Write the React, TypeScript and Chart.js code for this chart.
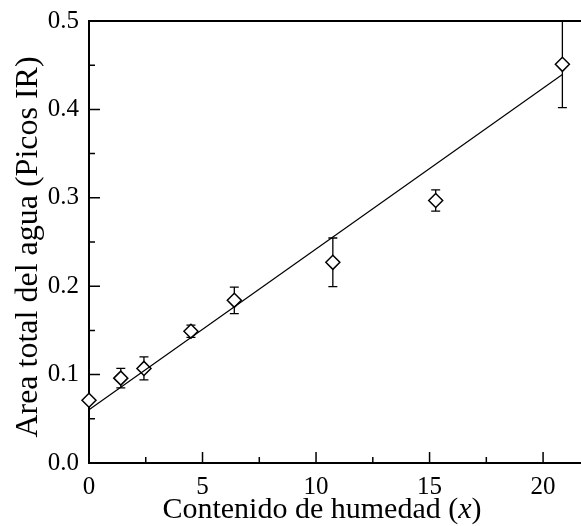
import React, { useEffect, useRef } from "react";
import { Chart, registerables } from "chart.js";

Chart.register(...registerables);

// Data
const moisture = [0, 1.4, 2.42, 4.49, 6.4, 10.74, 15.27, 20.85];
const waterArea = [0.071, 0.096, 0.107, 0.149, 0.184, 0.227, 0.297, 0.451];
const waterErr = [0, 0.011, 0.013, 0.007, 0.015, 0.0275, 0.012, 0.049];
const fitX = [0, 20.85];
const fitY = [0.0603, 0.4396];
const xMajorTicks = [0, 5, 10, 15, 20];
const xMinorTicks = [2.5, 7.5, 12.5, 17.5];
const yMajorTicks = [0, 0.1, 0.2, 0.3, 0.4, 0.5];
const yMinorTicks = [0.05, 0.15, 0.25, 0.35, 0.45];
const xTitleMain = "Contenido de humedad (";
const xTitleVar = "x";
const xTitleEnd = ")";
const yTitle = "Area total del agua (Picos IR)";

const FONT = "'Liberation Serif', 'Times New Roman', serif";

const decorPlugin = {
  id: "decor",
  beforeDatasetsDraw(chart: any) {
    const { ctx, chartArea } = chart;
    const xs = chart.scales.x;
    const ys = chart.scales.y;
    ctx.save();
    ctx.beginPath();
    ctx.rect(chartArea.left, chartArea.top, chartArea.right - chartArea.left, chartArea.bottom - chartArea.top);
    ctx.clip();
    ctx.strokeStyle = "#000";
    ctx.lineWidth = 1.3;
    for (let i = 0; i < moisture.length; i++) {
      if (!waterErr[i]) continue;
      const px = xs.getPixelForValue(moisture[i]);
      const top = ys.getPixelForValue(waterArea[i] + waterErr[i]);
      const bot = ys.getPixelForValue(waterArea[i] - waterErr[i]);
      ctx.beginPath();
      ctx.moveTo(px, top);
      ctx.lineTo(px, bot);
      ctx.moveTo(px - 4.5, top);
      ctx.lineTo(px + 4.5, top);
      ctx.moveTo(px - 4.5, bot);
      ctx.lineTo(px + 4.5, bot);
      ctx.stroke();
    }
    ctx.restore();
  },
  afterDraw(chart: any) {
    const { ctx, chartArea } = chart;
    const xs = chart.scales.x;
    const ys = chart.scales.y;
    ctx.save();
    ctx.strokeStyle = "#000";
    // frame top
    ctx.lineWidth = 2;
    ctx.beginPath();
    ctx.moveTo(chartArea.left - 1, chartArea.top);
    ctx.lineTo(chartArea.right, chartArea.top);
    ctx.stroke();
    // inward ticks
    ctx.lineWidth = 1.5;
    ctx.beginPath();
    xMajorTicks.forEach((v) => {
      const p = xs.getPixelForValue(v);
      ctx.moveTo(p, chartArea.bottom);
      ctx.lineTo(p, chartArea.bottom - 11);
    });
    xMinorTicks.forEach((v) => {
      const p = xs.getPixelForValue(v);
      ctx.moveTo(p, chartArea.bottom);
      ctx.lineTo(p, chartArea.bottom - 6);
    });
    yMajorTicks.forEach((v) => {
      const p = ys.getPixelForValue(v);
      ctx.moveTo(chartArea.left, p);
      ctx.lineTo(chartArea.left + 11, p);
    });
    yMinorTicks.forEach((v) => {
      const p = ys.getPixelForValue(v);
      ctx.moveTo(chartArea.left, p);
      ctx.lineTo(chartArea.left + 6, p);
    });
    ctx.stroke();
    // axis titles
    ctx.fillStyle = "#000";
    ctx.textBaseline = "alphabetic";
    ctx.textAlign = "left";
    const normal = `30px ${FONT}`;
    const italic = `italic 30px ${FONT}`;
    ctx.font = normal;
    const w1 = ctx.measureText(xTitleMain).width;
    const w3 = ctx.measureText(xTitleEnd).width;
    ctx.font = italic;
    const w2 = ctx.measureText(xTitleVar).width;
    const total = w1 + w2 + w3;
    const cx = chartArea.left + 233;
    const x0 = cx - total / 2;
    const by = 518;
    ctx.font = normal;
    ctx.fillText(xTitleMain, x0, by);
    ctx.font = italic;
    ctx.fillText(xTitleVar, x0 + w1, by);
    ctx.font = normal;
    ctx.fillText(xTitleEnd, x0 + w1 + w2, by);
    // y title
    ctx.translate(37, (chartArea.top + chartArea.bottom) / 2 + 5);
    ctx.rotate(-Math.PI / 2);
    ctx.textAlign = "center";
    ctx.font = `32px ${FONT}`;
    ctx.fillText(yTitle, 0, 0);
    ctx.restore();
  },
};

export default function App() {
  const ref = useRef<HTMLCanvasElement>(null);
  useEffect(() => {
    if (!ref.current) return;
    const chart = new Chart(ref.current, {
      type: "scatter",
      data: {
        datasets: [
          {
            type: "line",
            data: fitX.map((x, i) => ({ x, y: fitY[i] })),
            borderColor: "#000",
            borderWidth: 1.2,
            pointRadius: 0,
            fill: false,
          } as any,
          {
            data: moisture.map((x, i) => ({ x, y: waterArea[i] })),
            pointStyle: "rectRot",
            pointRadius: 7,
            pointBackgroundColor: "#fff",
            pointBorderColor: "#000",
            pointBorderWidth: 1.5,
            clip: false,
          } as any,
        ],
      },
      options: {
        responsive: false,
        animation: false,
        layout: { autoPadding: false, padding: { left: 0, right: 0, top: 21, bottom: 0 } },
        plugins: { legend: { display: false }, tooltip: { enabled: false }, title: { display: false } },
        scales: {
          x: {
            type: "linear",
            min: 0,
            max: 21.67,
            afterFit: (s: any) => {
              s.height = 63;
              s.paddingRight = 0;
              s.paddingLeft = 0;
            },
            afterBuildTicks: (s: any) => {
              s.ticks = xMajorTicks.map((v) => ({ value: v }));
            },
            grid: { display: false, drawTicks: false },
            border: { display: true, color: "#000", width: 2 },
            ticks: {
              color: "#000",
              padding: 9,
              maxRotation: 0,
              font: { family: FONT, size: 25 },
              callback: (v: any) => String(v),
            },
          },
          y: {
            type: "linear",
            min: 0,
            max: 0.5,
            afterFit: (s: any) => {
              s.width = 89;
              s.paddingTop = 0;
              s.paddingBottom = 0;
            },
            afterBuildTicks: (s: any) => {
              s.ticks = yMajorTicks.map((v) => ({ value: v }));
            },
            grid: { display: false, drawTicks: false },
            border: { display: true, color: "#000", width: 2 },
            ticks: {
              color: "#000",
              padding: 10,
              font: { family: FONT, size: 25 },
              callback: (v: any) => Number(v).toFixed(1),
            },
          },
        },
      },
      plugins: [decorPlugin],
    });
    return () => chart.destroy();
  }, []);
  return (
    <div style={{ position: "absolute", left: 0, top: 0, width: 581, height: 526 }}>
      <canvas ref={ref} width={581} height={526} style={{ display: "block" }} />
    </div>
  );
}
